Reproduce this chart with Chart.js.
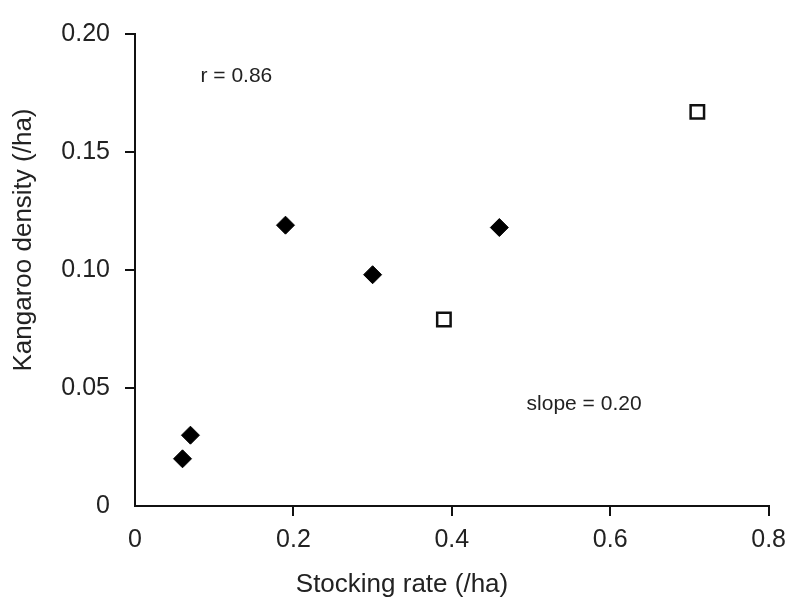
<!DOCTYPE html>
<html>
<head>
<meta charset="utf-8">
<script src="https://cdn.jsdelivr.net/npm/chart.js@4/dist/chart.umd.min.js"></script>
<style>
  html, body { margin: 0; padding: 0; background: #fff; }
  #wrap { width: 795px; height: 605px; }
</style>
</head>
<body>
<div id="wrap"><canvas id="chart"></canvas></div>
<script>
// stocking rate vs kangaroo density
const filledX = [0.06, 0.07, 0.19, 0.30, 0.46];
const filledY = [0.020, 0.030, 0.119, 0.098, 0.118];
const openX = [0.39, 0.71];
const openY = [0.079, 0.167];

const xTickLabels = ['0', '0.2', '0.4', '0.6', '0.8'];
const yTickLabels = ['0', '0.05', '0.10', '0.15', '0.20'];

const xTitle = 'Stocking rate (/ha)';
const yTitle = 'Kangaroo density (/ha)';

const noteText = ['r = 0.86', 'slope = 0.20'];
const noteX = [0.128, 0.567];
const noteY = [0.182, 0.043];

const FONT = '"Liberation Sans", Arial, Helvetica, sans-serif';
const INK = '#111';

// in-plot notes plus the axis titles, which sit off-centre in the original
const textPlugin = {
    id: 'texts',
    afterDraw(chart) {
        const { ctx, scales, chartArea } = chart;
        ctx.save();
        ctx.fillStyle = '#222';
        ctx.textAlign = 'center';
        ctx.textBaseline = 'middle';
        ctx.font = '21px ' + FONT;
        noteText.forEach((t, i) => {
            ctx.fillText(t, scales.x.getPixelForValue(noteX[i]), scales.y.getPixelForValue(noteY[i]));
        });
        ctx.font = '26px ' + FONT;
        ctx.fillText(xTitle, chartArea.left + 267, chartArea.bottom + 79);
        ctx.translate(24, chartArea.top + 206);
        ctx.rotate(-Math.PI / 2);
        ctx.fillText(yTitle, 0, 0);
        ctx.restore();
    },
};

const tickColor = (c) => (c.index === 0 ? 'rgba(0,0,0,0)' : INK);

new Chart(document.getElementById('chart'), {
    type: 'scatter',
    data: {
        datasets: [
            {
                label: 'filled',
                data: filledX.map((x, i) => ({ x: x, y: filledY[i] })),
                pointStyle: 'rectRot',
                pointRadius: 9,
                borderWidth: 1,
                backgroundColor: '#000',
                borderColor: '#000',
            },
            {
                label: 'open',
                data: openX.map((x, i) => ({ x: x, y: openY[i] })),
                pointStyle: 'rect',
                pointRadius: 9.5,
                borderWidth: 2.5,
                backgroundColor: '#fff',
                borderColor: '#111',
            },
        ],
    },
    options: {
        responsive: true,
        maintainAspectRatio: false,
        animation: false,
        devicePixelRatio: 1,
        layout: { padding: { left: 0, top: 34, right: 26, bottom: 0 } },
        plugins: {
            legend: { display: false },
            tooltip: { enabled: false },
        },
        scales: {
            x: {
                type: 'linear',
                min: 0,
                max: 0.8,
                afterFit: (s) => { s.height = 99; },
                border: { display: true, color: INK, width: 2 },
                grid: { drawOnChartArea: false, drawTicks: true, tickLength: 10, lineWidth: 2, color: tickColor },
                ticks: {
                    stepSize: 0.2,
                    padding: 9,
                    color: '#222',
                    font: { family: FONT, size: 25 },
                    maxRotation: 0,
                    callback: (v, i) => xTickLabels[i],
                },
            },
            y: {
                type: 'linear',
                min: 0,
                max: 0.2,
                afterFit: (s) => { s.width = 135; },
                border: { display: true, color: INK, width: 2 },
                grid: { drawOnChartArea: false, drawTicks: true, tickLength: 10, lineWidth: 2, color: tickColor },
                ticks: {
                    stepSize: 0.05,
                    padding: 15,
                    color: '#222',
                    font: { family: FONT, size: 25 },
                    callback: (v, i) => yTickLabels[i],
                },
            },
        },
    },
    plugins: [textPlugin],
});
</script>
</body>
</html>
